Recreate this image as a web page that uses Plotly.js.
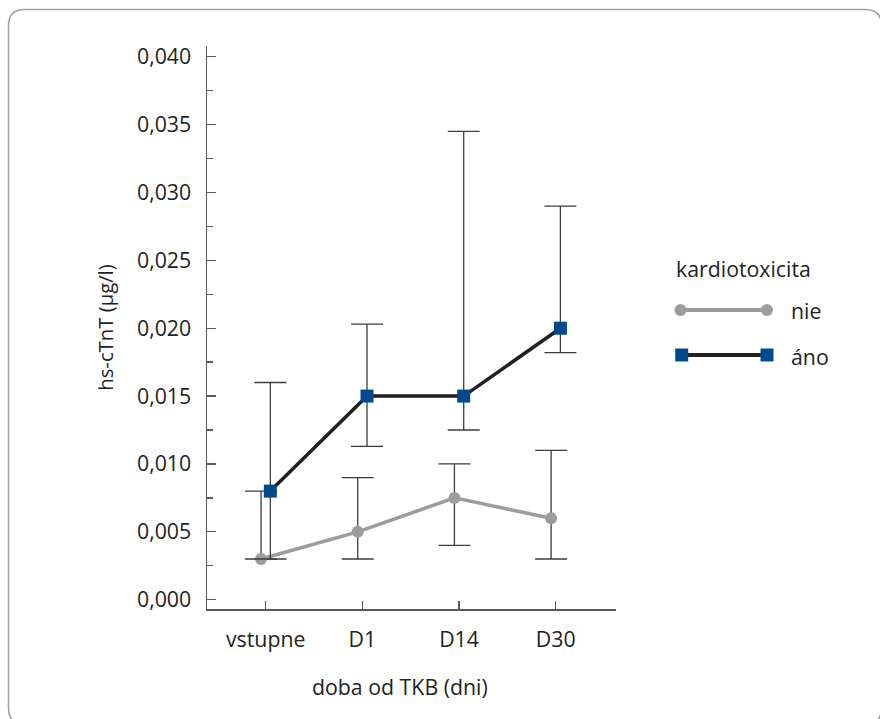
<!DOCTYPE html>
<html>
<head>
<meta charset="utf-8">
<script src="https://cdn.plot.ly/plotly-3.0.1.min.js"></script>
<style>
html,body{margin:0;padding:0;background:#fff;overflow:hidden;}
#chart{width:880px;height:719px;}
</style>
</head>
<body>
<div id="chart"></div>
<script>
// ---- data ----
var categories = ["vstupne", "D1", "D14", "D30"];
var seriesNames = ["nie", "áno"];
var legendTitle = "kardiotoxicita";
var nieValues = [0.003, 0.005, 0.0075, 0.006];
var nieHigh   = [0.008, 0.009, 0.010, 0.011];
var nieLow    = [0.003, 0.003, 0.004, 0.003];
var anoValues = [0.008, 0.015, 0.015, 0.020];
var anoHigh   = [0.016, 0.0203, 0.0345, 0.029];
var anoLow    = [0.003, 0.0113, 0.0125, 0.0182];
var yTickVals = [0, 0.005, 0.010, 0.015, 0.020, 0.025, 0.030, 0.035, 0.040];
var yTickText = ["0,000", "0,005", "0,010", "0,015", "0,020", "0,025", "0,030", "0,035", "0,040"];
var xTitle = "doba od TKB (dni)";
var yTitle = "hs-cTnT (µg/l)";

// ---- styling / layout helpers ----
var W = 880, H = 719;
var L = 207, R = 616, T = 46, B = 609;
function px(x){ return (x - L) / (R - L); }
function py(y){ return (B - y) / (B - T); }

var gray = "#9b9c9e", dark = "#231f20", blue = "#004a8c", errCol = "#3d3d3f";
var txt = "#231f20";
var font = {family: "Open Sans, sans-serif", size: 21.3, color: txt};
var titleFont = {family: "Open Sans, sans-serif", size: 20.3, color: txt};
var offset = 0.048;

function idx(sign){ return categories.map(function(c, i){ return i + sign * offset; }); }
function diff(a, b){ return a.map(function(v, i){ return +(v - b[i]).toFixed(6); }); }

var traces = [
  {
    type: "scatter", mode: "lines+markers", name: seriesNames[0],
    x: idx(-1), y: nieValues, text: categories,
    line: {color: gray, width: 3.5},
    marker: {symbol: "circle", size: 12, color: gray},
    error_y: {type: "data", symmetric: false, array: diff(nieHigh, nieValues), arrayminus: diff(nieValues, nieLow),
              color: errCol, thickness: 1.3, width: 16},
    showlegend: false
  },
  {
    type: "scatter", mode: "lines+markers", name: seriesNames[1],
    x: idx(1), y: anoValues, text: categories,
    line: {color: dark, width: 3.5},
    marker: {symbol: "square", size: 13, color: blue},
    error_y: {type: "data", symmetric: false, array: diff(anoHigh, anoValues), arrayminus: diff(anoValues, anoLow),
              color: errCol, thickness: 1.3, width: 16},
    showlegend: false
  }
];

// rounded outer frame
var bx0 = 8.5, by0 = 9.5, bx1 = 881.5, by1 = 724, r = 16;
var framePath = "M " + px(bx0) + "," + py(by0 + r) +
  " Q " + px(bx0) + "," + py(by0) + " " + px(bx0 + r) + "," + py(by0) +
  " L " + px(bx1 - r) + "," + py(by0) +
  " Q " + px(bx1) + "," + py(by0) + " " + px(bx1) + "," + py(by0 + r) +
  " L " + px(bx1) + "," + py(by1 - r) +
  " Q " + px(bx1) + "," + py(by1) + " " + px(bx1 - r) + "," + py(by1) +
  " L " + px(bx0 + r) + "," + py(by1) +
  " Q " + px(bx0) + "," + py(by1) + " " + px(bx0) + "," + py(by1 - r) + " Z";

var shapes = [
  {type: "path", xref: "paper", yref: "paper", path: framePath, line: {color: "#a0a0a0", width: 1.5}, layer: "below"},
  // legend: nie
  {type: "line", xref: "paper", yref: "paper", x0: px(680.5), x1: px(767), y0: py(310), y1: py(310), line: {color: gray, width: 4}},
  {type: "circle", xref: "paper", yref: "paper", xsizemode: "pixel", ysizemode: "pixel",
   xanchor: px(680.5), yanchor: py(310), x0: -6, x1: 6, y0: -6, y1: 6, fillcolor: gray, line: {width: 0}},
  {type: "circle", xref: "paper", yref: "paper", xsizemode: "pixel", ysizemode: "pixel",
   xanchor: px(767), yanchor: py(310), x0: -6, x1: 6, y0: -6, y1: 6, fillcolor: gray, line: {width: 0}},
  // legend: áno
  {type: "line", xref: "paper", yref: "paper", x0: px(681.7), x1: px(767), y0: py(355), y1: py(355), line: {color: dark, width: 4}},
  {type: "rect", xref: "paper", yref: "paper", xsizemode: "pixel", ysizemode: "pixel",
   xanchor: px(681.7), yanchor: py(355), x0: -6.5, x1: 6.5, y0: -6.5, y1: 6.5, fillcolor: blue, line: {width: 0}},
  {type: "rect", xref: "paper", yref: "paper", xsizemode: "pixel", ysizemode: "pixel",
   xanchor: px(767), yanchor: py(355), x0: -6.5, x1: 6.5, y0: -6.5, y1: 6.5, fillcolor: blue, line: {width: 0}}
];

var annotations = [
  {xref: "paper", yref: "paper", x: px(400), y: py(687), xanchor: "center", yanchor: "middle",
   text: xTitle, showarrow: false, font: font},
  {xref: "paper", yref: "paper", x: px(674), y: py(268), xanchor: "left", yanchor: "middle",
   text: legendTitle, showarrow: false, font: font},
  {xref: "paper", yref: "paper", x: px(789), y: py(310), xanchor: "left", yanchor: "middle",
   text: seriesNames[0], showarrow: false, font: font},
  {xref: "paper", yref: "paper", x: px(789), y: py(356), xanchor: "left", yanchor: "middle",
   text: seriesNames[1], showarrow: false, font: font}
];

var layout = {
  width: W, height: H,
  margin: {l: L, r: W - R, t: T, b: H - B, pad: 0},
  paper_bgcolor: "#ffffff", plot_bgcolor: "rgba(0,0,0,0)",
  font: font,
  showlegend: false,
  xaxis: {
    range: [-0.607, 3.623], tickvals: [0, 1, 2, 3], ticktext: categories,
    showgrid: false, zeroline: false, showline: true, linecolor: "#58595b", linewidth: 1.5,
    ticks: "inside", ticklen: 8, tickwidth: 1.3, tickcolor: "#58595b",
    ticklabelstandoff: 11, tickfont: font, fixedrange: true
  },
  yaxis: {
    range: [-0.000685, 0.04079], tickvals: yTickVals, ticktext: yTickText,
    showgrid: false, zeroline: false, showline: true, linecolor: "#58595b", linewidth: 1.5,
    ticks: "inside", ticklen: 9, tickwidth: 1.3, tickcolor: "#58595b",
    minor: {tickvals: [0.0025, 0.0075, 0.0125, 0.0175, 0.0225, 0.0275, 0.0325, 0.0375],
            ticks: "inside", ticklen: 6, tickwidth: 1.3, tickcolor: "#58595b", showgrid: false},
    ticklabelstandoff: 10, tickfont: font,
    title: {text: yTitle, font: titleFont, standoff: 18},
    automargin: false, fixedrange: true
  },
  shapes: shapes,
  annotations: annotations
};

Plotly.newPlot("chart", traces, layout, {displayModeBar: false, staticPlot: true});
</script>
</body>
</html>
